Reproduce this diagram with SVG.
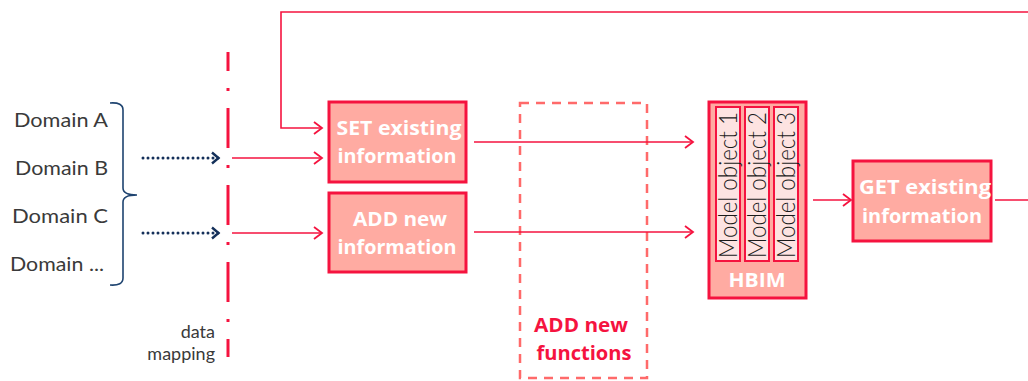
<svg xmlns="http://www.w3.org/2000/svg" width="1028" height="381" viewBox="0 0 1028 381">
<style>
.lbl{font-family:Lato,"Liberation Sans",sans-serif;font-size:20px;fill:#3a3a3a}
.sm{font-family:Lato,"Liberation Sans",sans-serif;font-size:18px;fill:#3a3a3a;text-anchor:end}
.box{fill:#ffaba2;stroke:#f5133f;stroke-width:3}
.btxt{font-family:"Open Sans","Liberation Sans",sans-serif;font-size:20px;font-weight:bold;fill:#ffffff;text-anchor:middle}
.ftxt{font-family:"Open Sans","Liberation Sans",sans-serif;font-size:19px;font-weight:bold;fill:#f5133f;text-anchor:middle}
.rl{fill:none;stroke:#f5133f;stroke-width:1.6}
.col{fill:#fde3e1;stroke:#f5133f;stroke-width:2}
.mo{font-family:Lato,"Liberation Sans",sans-serif;font-size:26px;font-weight:300;fill:#1a1a1a}
</style>
<defs>
<marker id="ah" markerWidth="12" markerHeight="14" refX="10" refY="7" orient="auto" markerUnits="userSpaceOnUse">
<path d="M2,1 L10,7 L2,13" fill="none" stroke="#f5133f" stroke-width="1.8"/>
</marker>
<marker id="bh" markerWidth="12" markerHeight="14" refX="10" refY="7" orient="auto" markerUnits="userSpaceOnUse">
<path d="M3,1.5 L9.5,7 L3,12.5" fill="none" stroke="#14305a" stroke-width="2.4"/>
</marker>
</defs>

<g id="domains">
<text class="lbl" x="14" y="127" textLength="94" lengthAdjust="spacingAndGlyphs">Domain A</text>
<text class="lbl" x="15" y="175" textLength="93" lengthAdjust="spacingAndGlyphs">Domain B</text>
<text class="lbl" x="12" y="223" textLength="96" lengthAdjust="spacingAndGlyphs">Domain C</text>
<text class="lbl" x="10" y="271" textLength="94" lengthAdjust="spacingAndGlyphs">Domain ...</text>
<path d="M110,103 Q123,102 123,110 L123,188 Q123,195 137,195 Q123,195 123,202 L123,278 Q123,286 110,285" fill="none" stroke="#1f4470" stroke-width="1.6"/>
</g>

<g id="mapping">
<line x1="228" y1="52" x2="228" y2="357" stroke="#f5133f" stroke-width="3" stroke-dasharray="40 17 3 17" stroke-dashoffset="21"/>
<text class="sm" x="215" y="338">data</text>
<text class="sm" x="215" y="360">mapping</text>
</g>

<g id="set">
<rect class="box" x="329" y="102" width="137" height="80"/>
<text class="btxt" x="399" y="135" textLength="125" lengthAdjust="spacingAndGlyphs">SET existing</text>
<text class="btxt" x="397" y="163" textLength="119" lengthAdjust="spacingAndGlyphs">information</text>
</g>

<g id="add">
<rect class="box" x="329" y="193" width="137" height="79"/>
<text class="btxt" x="400" y="226" textLength="94" lengthAdjust="spacingAndGlyphs">ADD new</text>
<text class="btxt" x="397" y="254" textLength="119" lengthAdjust="spacingAndGlyphs">information</text>
</g>

<g id="functions">
<rect x="520" y="103" width="127" height="275" fill="none" stroke="#ff6a6a" stroke-width="2.5" stroke-dasharray="9 7"/>
<text class="ftxt" x="581" y="332" textLength="94" lengthAdjust="spacingAndGlyphs">ADD new</text>
<text class="ftxt" x="584" y="360" textLength="95" lengthAdjust="spacingAndGlyphs">functions</text>
</g>

<g id="hbim">
<rect class="box" x="709" y="102" width="97" height="196"/>
<rect class="col" x="716" y="107" width="24" height="154"/>
<rect class="col" x="745" y="107" width="24" height="154"/>
<rect class="col" x="774" y="107" width="24" height="154"/>
<text class="mo" transform="translate(737,258) rotate(-90)" textLength="146" lengthAdjust="spacingAndGlyphs">Model object 1</text>
<text class="mo" transform="translate(766,258) rotate(-90)" textLength="146" lengthAdjust="spacingAndGlyphs">Model object 2</text>
<text class="mo" transform="translate(795,258) rotate(-90)" textLength="146" lengthAdjust="spacingAndGlyphs">Model object 3</text>
<text class="btxt" x="757" y="287" textLength="57" lengthAdjust="spacingAndGlyphs">HBIM</text>
</g>

<g id="get">
<rect class="box" x="853" y="161" width="138" height="80"/>
<text class="btxt" x="925" y="194" textLength="132" lengthAdjust="spacingAndGlyphs">GET existing</text>
<text class="btxt" x="922" y="223" textLength="120" lengthAdjust="spacingAndGlyphs">information</text>
</g>

<g id="connectors">
<line x1="143" y1="158" x2="219" y2="158" stroke="#14305a" stroke-width="3" stroke-dasharray="0 5" stroke-linecap="round" marker-end="url(#bh)"/>
<line x1="143" y1="233" x2="219" y2="233" stroke="#14305a" stroke-width="3" stroke-dasharray="0 5" stroke-linecap="round" marker-end="url(#bh)"/>
<line class="rl" x1="232" y1="158" x2="322" y2="158" marker-end="url(#ah)"/>
<line class="rl" x1="232" y1="233" x2="322" y2="233" marker-end="url(#ah)"/>
<polyline class="rl" points="1028,12 281,12 281,128 322,128" marker-end="url(#ah)"/>
<line class="rl" x1="474" y1="142" x2="693" y2="142" marker-end="url(#ah)"/>
<line class="rl" x1="474" y1="232" x2="693" y2="232" marker-end="url(#ah)"/>
<line class="rl" x1="813" y1="200" x2="851" y2="200" marker-end="url(#ah)"/>
<line class="rl" x1="995" y1="200" x2="1028" y2="200"/>
</g>
</svg>
